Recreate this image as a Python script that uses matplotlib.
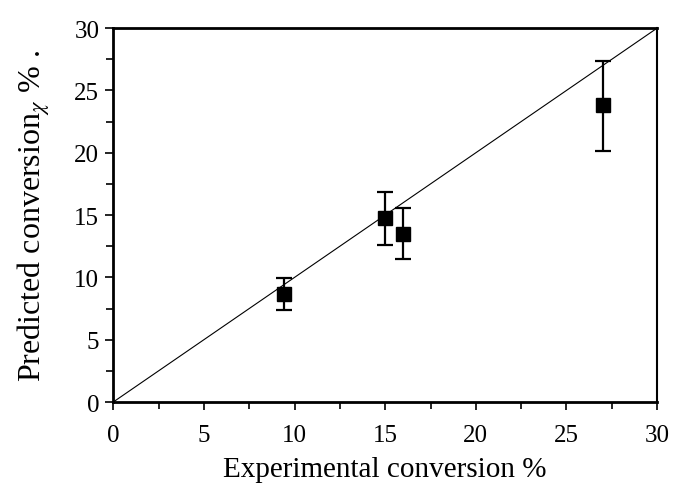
import matplotlib
matplotlib.use("Agg")
import matplotlib.pyplot as plt
from matplotlib.ticker import MultipleLocator

# experimental vs predicted conversion (%), with asymmetric error bars
exp_conv = [9.4, 15.0, 16.0, 27.0]
pred_conv = [8.7, 14.8, 13.5, 23.8]
err_low = [1.3, 2.2, 2.05, 3.65]
err_high = [1.25, 2.05, 2.05, 3.55]
parity = [0, 30]

plt.rcParams["font.family"] = ["Liberation Serif", "DejaVu Serif"]
plt.rcParams["mathtext.fontset"] = "stix"

fig = plt.figure(figsize=(6.74, 4.85), dpi=100)
ax = fig.add_axes([0.168, 0.169, 0.807, 0.771])

ax.plot(parity, parity, color="black", lw=0.8)
ax.errorbar(exp_conv, pred_conv, yerr=[err_low, err_high], fmt="s",
            color="black", ms=10, elinewidth=1.6, capsize=6, capthick=1.6)

ax.set_xlim(0, 30)
ax.set_ylim(0, 30)
ax.xaxis.set_major_locator(MultipleLocator(5))
ax.xaxis.set_minor_locator(MultipleLocator(2.5))
ax.yaxis.set_major_locator(MultipleLocator(5))
ax.yaxis.set_minor_locator(MultipleLocator(2.5))
ax.tick_params(which="both", direction="out", width=1.2, labelsize=18)
ax.tick_params(which="major", length=6)
ax.tick_params(which="minor", length=5)
ax.tick_params(axis="x", pad=10)
ax.tick_params(axis="y", pad=4)
for side in ["left", "bottom", "top"]:
    ax.spines[side].set_linewidth(2.0)
ax.spines["right"].set_linewidth(1.5)

ax.set_xlabel("Experimental conversion %", fontsize=21, labelpad=7)
ax.set_ylabel(r"Predicted conversion$_{\chi}$ % .", fontsize=23, labelpad=16)

fig.savefig("out.png", dpi=100)
